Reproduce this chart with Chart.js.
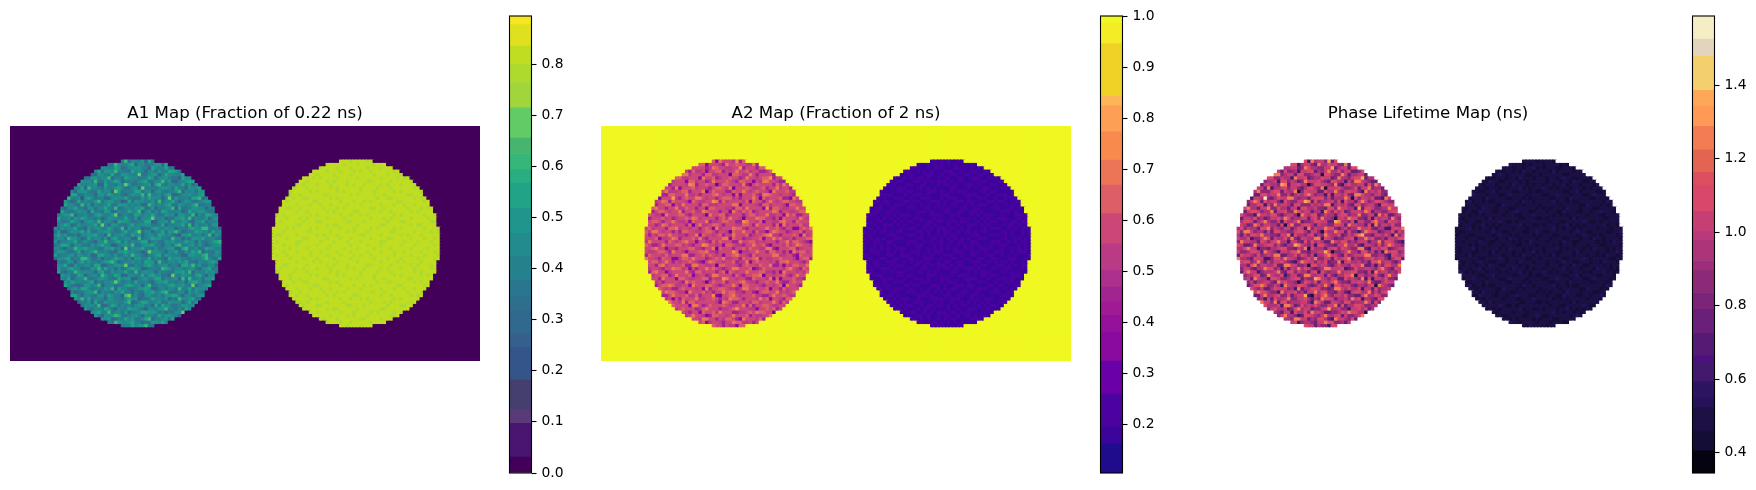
<!DOCTYPE html>
<html lang="en">
<head>
    <meta charset="UTF-8">
    <title>Lifetime Maps</title>
    <script src="https://cdn.jsdelivr.net/npm/chart.js"></script>
    <style>
        * { margin: 0; padding: 0; box-sizing: border-box; }
        html, body { background: white; width: 1756px; height: 490px; overflow: hidden; }
        canvas { position: absolute; display: block; }
    </style>
</head>
<body>
    <script>
        // Map titles
        const a1Title = "A1 Map (Fraction of 0.22 ns)";
        const a2Title = "A2 Map (Fraction of 2 ns)";
        const a3Title = "Phase Lifetime Map (ns)";

        // Image size in cells
        const gridCols = 140;
        const gridRows = 70;

        // Disc outline: cells either side of the centre, top row down to the middle row
        const discSpans = [5, 9, 11, 13, 14, 16, 17, 18, 19, 20, 20, 21, 22, 22, 23, 23, 24, 24, 24, 24, 25, 25, 25, 25, 25];
        const discTop = 10;
        const leftDiscCentre = 38;
        const rightDiscCentre = 103;

        // Disc texture, one digit per cell, index into the level lists below.
        // Estimated by eye: it follows the look and spread of the reference, not each single cell.
        const leftNoise = [
            "55436647345523744665382544617356644253746455335647",
            "44675533642755463385446725534466275345564437255463",
            "36544752466338554476235566441754473356642855344765",
            "57334466125547366584433756425536447763245546683354",
            "45563378445226544733665449335662475544736356224567",
            "64425545733664558244376553447625564331755466344275",
            "33756424655483364576244435673355846224567733546485",
            "55246637445561274435596334456278435544736242655734",
            "46653344728554364467533562944435665374426557343654",
            "73445526664337455296344477355256434468254536674423",
            "24556773354426647545324655838445367223556446755336",
            "56338445067534422565574333647555249364453778245546",
            "45664237354468356644127365544638355742465334566273",
            "36475533846254457336664545228545467336544683344755",
            "64325574426635574483355466733624455817334665524476",
            "55743346552744366235447558246353764445237556643358",
            "43566824453367544692453376455743365526644825377544",
            "27445365764435236554474362556944523366748354462563",
            "65334754256648355427665334477125563844663255734456",
            "44576236445573942664335745566334724455738264453667",
            "53645573326456447534826455233675465524436755884342",
            "36224655747335566433574469355244736685234476553745",
            "57463342556674428355643756245537645321667445358264",
            "45538664237455362674455228345766443855243665744533",
            "62445573464325584467363545772453365644475526334678",
            "34776255433646755124564833566744255378445636423556",
            "55324486675543366745293555744363456622784453376544",
            "46653347245684453326675544139665425573364758243365",
            "73445636545227755363464855324467365444226655783454",
            "25567344886335244576535266447354327566443544685337",
            "64336525746443567852344645376628435546573325446756",
            "45573264455377224466593354467535563442775846335526",
            "36446755233658474525346765224443876355445632567344",
            "57324486555426733645574383565525443366748254465633",
            "44655337624553864476225544736755332944655367425564",
            "63547245583346654337566124564477354562838445366745",
            "25364755446724355696345374453256674434526775344263",
            "54775332366458245533467645258335446755643924567336",
            "46233564775344465827553346676224535538447365544653",
            "75546423356682544365744253366745784335526464337255",
            "33654774255436637544189453256445366774255346654482",
            "56423365847355426644357562334755462438556733645547",
            "44756532446273365554468235774456336555247364482365",
            "65344476355548224763545356644273755334665526374454",
            "37558243664355476325447664315546684435375244665733",
            "54463756322567448355362445776653423355947362454566",
            "46725534457364255687334564255437466542336475583344",
            "53366485246743556224475633578244563765445328654756",
            "27445653374525464386556744233665742455364475337255",
            "64553248655376432567344756683354256473445582366447"
        ];
        const rightNoise = [
            "4553646354755364436754536",
            "3645527465344657255463645",
            "5743466354626534475364427",
            "4356275445734465364725563",
            "6445534673455246553446735",
            "3574465244663537446255464",
            "5463357546245664353647344",
            "4635744263556345724556373",
            "5246563547344756435264655",
            "6354435665427345566343746",
            "3765524436554673245456534",
            "4446753562345546734365645",
            "5534264475663354455724463",
            "7345546354437625536465354",
            "4656335724556443674353546",
            "3564476245367556342545763",
            "5343657464534375456634425",
            "6475354536264554345763546",
            "4536446753545236647445335",
            "3654574326474655353264576",
            "5445263655736344564537443",
            "4763544546325576435466352",
            "6335675344565243746355464",
            "4546354763346557245634537",
            "5374456235675434563746245"
        ];

        // Cell value for each digit
        const a1LeftLevels = [0.20, 0.26, 0.31, 0.36, 0.40, 0.45, 0.50, 0.56, 0.60, 0.68];
        const a1RightLevels = [0.73, 0.75, 0.77, 0.785, 0.80, 0.81, 0.82, 0.83, 0.85, 0.86];
        const a1Background = 0.0;
        const a2LeftLevels = [0.82, 0.76, 0.71, 0.66, 0.61, 0.56, 0.51, 0.45, 0.38, 0.30];
        const a2RightLevels = [0.29, 0.26, 0.24, 0.21, 0.20, 0.19, 0.18, 0.17, 0.15, 0.12];
        const a2Background = 1.0;
        const a3LeftLevels = [1.55, 1.38, 1.24, 1.12, 1.02, 0.93, 0.84, 0.74, 0.62, 0.48];
        const a3RightLevels = [0.62, 0.58, 0.55, 0.52, 0.50, 0.48, 0.46, 0.44, 0.41, 0.37];
        const a3Background = null;

        // Colorbar bands
        const a1Edges = [0, 0.031, 0.097, 0.124, 0.182, 0.246, 0.272, 0.318, 0.344, 0.377, 0.423, 0.469, 0.518, 0.567, 0.593, 0.625, 0.655, 0.715, 0.763, 0.799, 0.835, 0.877, 0.894];
        const a1Colors = ["#43005a", "#4a1570", "#5a3a78", "#453f70", "#34558a", "#35608d", "#31688e", "#2e6f8e", "#2a768e", "#26818e", "#228b8d", "#1f958b", "#20a386", "#28ae80", "#35b779", "#47b56e", "#62cb66", "#a0d63c", "#aeda30", "#c0dd22", "#dfe01e", "#f6e620"];
        const a2Edges = [0.105, 0.162, 0.195, 0.26, 0.324, 0.381, 0.414, 0.44, 0.469, 0.502, 0.554, 0.613, 0.669, 0.718, 0.773, 0.824, 0.843, 0.946, 0.986, 1.0];
        const a2Colors = ["#1f0c8d", "#3b049a", "#4c02a1", "#6a00a8", "#8a0aa0", "#94119c", "#a01a96", "#a12590", "#ad2f8e", "#bb3a85", "#cc4778", "#dd5e66", "#ec7558", "#f98a4d", "#fd9f55", "#fdb55a", "#f0d125", "#f5ec28", "#eff821"];
        const a3Edges = [0.345, 0.405, 0.46, 0.523, 0.55, 0.593, 0.645, 0.664, 0.724, 0.79, 0.836, 0.896, 0.923, 0.978, 1.002, 1.057, 1.128, 1.163, 1.225, 1.288, 1.343, 1.386, 1.479, 1.525, 1.588];
        const a3Colors = ["#050310", "#140e36", "#1c1044", "#26125a", "#2c1460", "#43196e", "#4c1080", "#541a74", "#6a1f78", "#7c2478", "#8c2a78", "#9c2e7c", "#ad3478", "#b93a7a", "#c63e74", "#d9486a", "#dd4f5e", "#e46452", "#f47c52", "#fe9a55", "#fda858", "#f3cf6e", "#e3d5bd", "#f5eec5"];

        // Colorbar ticks
        const a1Ticks = [0, 0.1, 0.2, 0.3, 0.4, 0.5, 0.6, 0.7, 0.8];
        const a2Ticks = [0.2, 0.3, 0.4, 0.5, 0.6, 0.7, 0.8, 0.9, 1.0];
        const a3Ticks = [0.4, 0.6, 0.8, 1.0, 1.2, 1.4];

        const fontName = "'DejaVu Sans', sans-serif";

        // Cells are drawn a little oversized so no seams show, later ones cover earlier ones.
        // The nudge keeps the part left visible on its own grid square.
        const cellRadius = 3.2;
        const cellNudge = 0.17;

        function addCanvas(left, top, width, height) {
            let canvas = document.createElement("canvas");
            canvas.width = width;
            canvas.height = height;
            canvas.style.left = left + "px";
            canvas.style.top = top + "px";
            canvas.style.width = width + "px";
            canvas.style.height = height + "px";
            document.body.appendChild(canvas);
            return canvas;
        }

        // Half width of the disc on a row, 0 when the row misses it
        function spanForRow(row) {
            let fromTop = row - discTop;
            if (fromTop < 0 || fromTop >= discSpans.length * 2) return 0;
            return fromTop < discSpans.length ? discSpans[fromTop] : discSpans[discSpans.length * 2 - 1 - fromTop];
        }

        function colorFor(value, edges, colors) {
            if (value === null) return "#ffffff"; // masked cell
            for (let b = 0; b < colors.length; b++) {
                if (value <= edges[b + 1]) return colors[b];
            }
            return colors[colors.length - 1];
        }

        function buildCells(background, leftLevels, rightLevels) {
            let cells = [];
            for (let row = 0; row < gridRows; row++) {
                let span = spanForRow(row);
                let leftLine = leftNoise[(row - discTop + leftNoise.length) % leftNoise.length];
                let rightLine = rightNoise[(row - discTop + rightNoise.length) % rightNoise.length];
                for (let col = 0; col < gridCols; col++) {
                    let value = background;
                    if (col >= leftDiscCentre - span && col < leftDiscCentre + span) {
                        value = leftLevels[Number(leftLine[(col - leftDiscCentre + 25) % leftLine.length])];
                    } else if (col >= rightDiscCentre - span && col < rightDiscCentre + span) {
                        value = rightLevels[Number(rightLine[(col - rightDiscCentre + 25) % rightLine.length])];
                    }
                    cells.push({ x: col + 0.5 + cellNudge, y: row + 0.5 + cellNudge, v: value });
                }
            }
            return cells;
        }

        function drawMap(left, title, cells, edges, colors) {
            new Chart(addCanvas(left, 104, 470, 257), {
                type: "scatter",
                data: {
                    datasets: [{
                        data: cells,
                        clip: 0,
                        pointStyle: "rect",
                        pointRadius: cellRadius,
                        pointBorderWidth: 0,
                        pointBackgroundColor: cells.map(c => colorFor(c.v, edges, colors))
                    }]
                },
                options: {
                    responsive: false,
                    animation: false,
                    events: [],
                    layout: { padding: 0, autoPadding: false },
                    plugins: {
                        legend: { display: false },
                        tooltip: { enabled: false },
                        title: {
                            display: true,
                            text: title,
                            color: "#000000",
                            font: { family: fontName, size: 16.67, weight: "normal" },
                            padding: { top: 0, bottom: 2 }
                        }
                    },
                    scales: {
                        x: { type: "linear", display: false, min: 0, max: gridCols },
                        y: { type: "linear", display: false, min: 0, max: gridRows, reverse: true }
                    }
                }
            });
        }

        const colorbarFrame = {
            id: "colorbarFrame",
            afterDraw(chart) {
                let area = chart.chartArea;
                let ctx = chart.ctx;
                ctx.save();
                ctx.strokeStyle = "#000000";
                ctx.lineWidth = 1.1;
                ctx.strokeRect(area.left, area.top, area.right - area.left, area.bottom - area.top);
                ctx.restore();
            }
        };

        function drawColorbar(left, edges, colors, ticks) {
            new Chart(addCanvas(left, 0, 80, 490), {
                type: "bar",
                data: {
                    labels: [""],
                    datasets: colors.map((color, b) => ({
                        data: [[edges[b], edges[b + 1]]],
                        backgroundColor: color,
                        borderWidth: 0,
                        barPercentage: 1,
                        categoryPercentage: 1
                    }))
                },
                options: {
                    responsive: false,
                    animation: false,
                    events: [],
                    datasets: { bar: { grouped: false } },
                    layout: { padding: { left: 1.5, right: 0, top: 16, bottom: 17 } },
                    plugins: {
                        legend: { display: false },
                        tooltip: { enabled: false }
                    },
                    scales: {
                        x: { display: false },
                        y: {
                            position: "right",
                            min: edges[0],
                            max: edges[edges.length - 1],
                            afterBuildTicks: axis => { axis.ticks = ticks.map(t => ({ value: t })); },
                            afterFit: axis => { axis.width = 56.5; },
                            border: { display: false },
                            grid: {
                                drawOnChartArea: false,
                                drawTicks: true,
                                tickLength: 5,
                                tickColor: "#000000",
                                tickWidth: 1.1
                            },
                            ticks: {
                                autoSkip: false,
                                padding: 5,
                                color: "#000000",
                                font: { family: fontName, size: 13.89 },
                                callback: value => value.toFixed(1)
                            }
                        }
                    }
                },
                plugins: [colorbarFrame]
            });
        }

        drawMap(10, a1Title, buildCells(a1Background, a1LeftLevels, a1RightLevels), a1Edges, a1Colors);
        drawMap(601, a2Title, buildCells(a2Background, a2LeftLevels, a2RightLevels), a2Edges, a2Colors);
        drawMap(1193, a3Title, buildCells(a3Background, a3LeftLevels, a3RightLevels), a3Edges, a3Colors);

        drawColorbar(508, a1Edges, a1Colors, a1Ticks);
        drawColorbar(1099, a2Edges, a2Colors, a2Ticks);
        drawColorbar(1691, a3Edges, a3Colors, a3Ticks);
    </script>
</body>
</html>
